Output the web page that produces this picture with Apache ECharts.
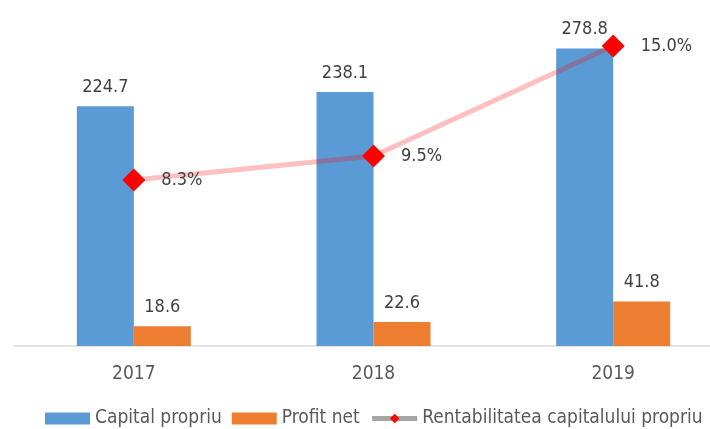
<!DOCTYPE html>
<html>
<head>
<meta charset="utf-8">
<script src="https://cdn.jsdelivr.net/npm/echarts@6/dist/echarts.min.js"></script>
<style>
  html, body { margin: 0; padding: 0; background: #fff; overflow: hidden; }
  #chart { width: 733px; height: 429px; }
</style>
</head>
<body>
<div id="chart"></div>
<script>
// Yearly figures
const years = ['2017', '2018', '2019'];
const capitalPropriu = [224.7, 238.1, 278.8];
const profitNet = [18.6, 22.6, 41.8];
const rentabilitate = [8.3, 9.5, 15.0];

const FONT = '"Liberation Sans Narrow", "DejaVu Sans Condensed", "Liberation Sans", sans-serif';

// The plot runs a little past the right edge of the visible page, so the
// container is wider than the window and the overflow is hidden.
const chart = echarts.init(document.getElementById('chart'), null, { renderer: 'canvas' });
chart.setOption({
  animation: false,
  textStyle: { fontFamily: FONT },
  grid: { left: 14, top: 26, right: 0, height: 320, containLabel: false },
  xAxis: {
    type: 'category',
    data: years,
    axisLine: { lineStyle: { color: '#d9d9d9', width: 1.5 } },
    axisTick: { show: false },
    axisLabel: { color: '#595959', fontSize: 19, margin: 19, fontFamily: FONT }
  },
  yAxis: [
    { type: 'value', min: 0, max: 300, show: false, splitLine: { show: false } },
    { type: 'value', min: 0, max: 16, show: false, splitLine: { show: false } }
  ],
  legend: {
    top: 404,
    left: 40,
    itemWidth: 45,
    itemHeight: 12,
    itemGap: 10,
    textStyle: { color: '#595959', fontSize: 19, fontFamily: FONT },
    data: [
      { name: 'Capital propriu', icon: 'rect' },
      { name: 'Profit net', icon: 'rect' },
      {
        name: 'Rentabilitatea capitalului propriu',
        itemStyle: { color: '#ff0000' },
        lineStyle: { color: '#a5a5a5', width: 5 }
      }
    ]
  },
  series: [
    {
      name: 'Capital propriu',
      type: 'bar',
      data: capitalPropriu,
      barWidth: 57,
      barGap: '0%',
      itemStyle: { color: '#5b9bd5' },
      label: {
        show: true, position: 'top', distance: 10,
        color: '#404040', fontSize: 18, fontFamily: FONT,
        formatter: p => p.value.toFixed(1)
      }
    },
    {
      name: 'Profit net',
      type: 'bar',
      data: profitNet,
      barWidth: 57,
      barGap: '0%',
      itemStyle: { color: '#ed7d31' },
      label: {
        show: true, position: 'top', distance: 10,
        color: '#404040', fontSize: 18, fontFamily: FONT,
        formatter: p => p.value.toFixed(1)
      }
    },
    {
      name: 'Rentabilitatea capitalului propriu',
      type: 'line',
      yAxisIndex: 1,
      data: rentabilitate,
      symbol: 'diamond',
      symbolSize: [23, 23],
      lineStyle: { color: 'rgba(255,0,0,0.25)', width: 5 },
      itemStyle: { color: '#ff0000' },
      label: {
        show: true, position: 'right', distance: 16,
        color: '#404040', fontSize: 18, fontFamily: FONT,
        formatter: p => p.value.toFixed(1) + '%'
      },
      z: 3
    }
  ]
});
</script>
</body>
</html>
